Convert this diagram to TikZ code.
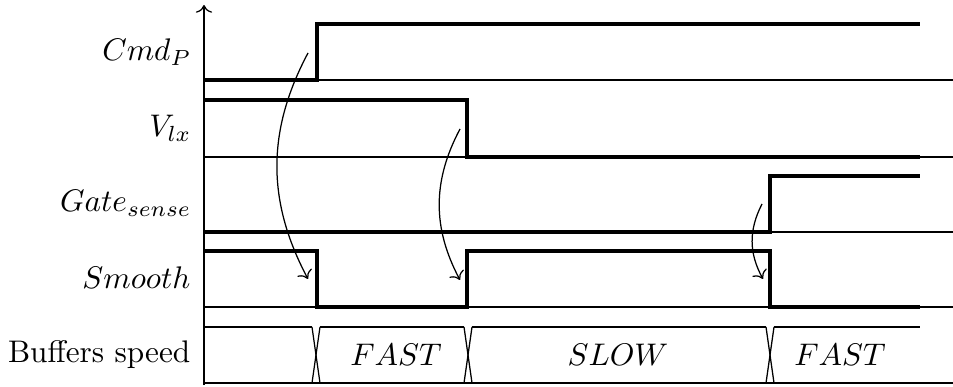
\documentclass[tikz,border=0pt]{standalone}
\usepackage{amsmath}
\usepackage{tikz}
\usetikzlibrary{arrows.meta,positioning,calc}

\begin{document}
\begin{tikzpicture}[
    x=0.01125cm, y=-0.01125cm,
    sig/.style={line width=1.3pt, line join=miter},
    base/.style={line width=0.4pt},
    bus/.style={line width=0.4pt},
    lbl/.style={inner sep=0pt, anchor=east},
    val/.style={inner sep=0pt, anchor=center},
    cause/.style={->, line width=0.4pt, bend right=28}
]
\useasboundingbox (0,0) rectangle (953,387);

\node[lbl] (cmdlbl) at (192,52) {$Cmd_P$};
\node[lbl] (vlxlbl) at (192,128) {$V_{lx}$};
\node[lbl] (gatelbl) at (192,203) {$Gate_{sense}$};
\node[lbl] (smoothlbl) at (191,278) {$Smooth$};
\node[lbl] (buflbl) at (191,355) {Buffers speed};

\foreach \yb in {80,157,232,307,383}
  \draw[base] (204,\yb) -- (953,\yb);
\draw[->, base] (204,385) -- (204,5);

\draw[sig] (204,80) -- (317,80) -- (317,24) -- (920,24);
\draw[sig] (204,100) -- (467,100) -- (467,157) -- (920,157);
\draw[sig] (204,232) -- (770,232) -- (770,176) -- (920,176);
\draw[sig] (204,251) -- (317,251) -- (317,307) -- (467,307) -- (467,251)
  -- (770,251) -- (770,307) -- (920,307);

\draw[bus] (204,327) -- (312,327);
\foreach \xc in {316,468,770} {
  \draw[bus] (\xc-4,327) -- (\xc+4,383);
  \draw[bus] (\xc+4,327) -- (\xc-4,383);
}
\draw[bus] (320,327) -- (464,327);
\draw[bus] (472,327) -- (766,327);
\draw[bus] (774,327) -- (920,327);

\node[val] (fast1) at (396,355) {$FAST$};
\node[val] (slow) at (618,355) {$SLOW$};
\node[val] (fast2) at (840,355) {$FAST$};

\coordinate (c1s) at (308,53);
\coordinate (c1e) at (308,279);
\coordinate (c2s) at (460,129);
\coordinate (c2e) at (460,280);
\coordinate (c3s) at (762,204);
\coordinate (c3e) at (763,279);
\draw[cause] (c1s) to (c1e);
\draw[cause] (c2s) to (c2e);
\draw[cause] (c3s) to (c3e);
\end{tikzpicture}
\end{document}
